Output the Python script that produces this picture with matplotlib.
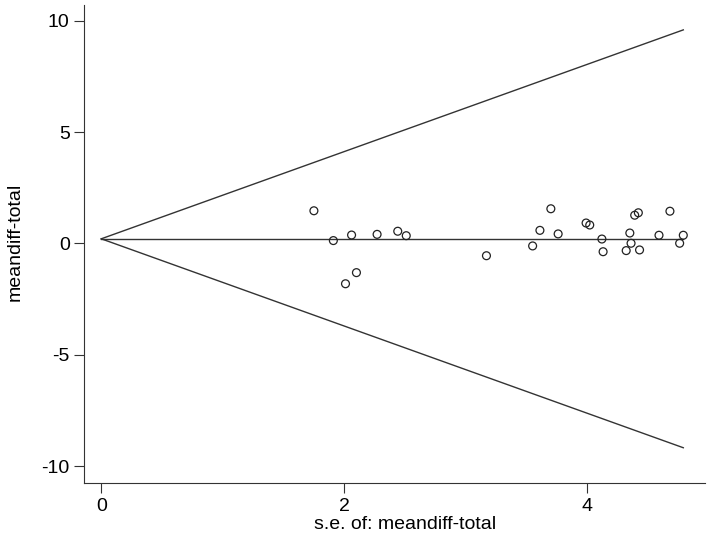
import matplotlib
matplotlib.use("Agg")
import matplotlib.pyplot as plt
import numpy as np

se = [1.75, 1.91, 2.06, 2.10, 2.01, 2.27, 2.44, 2.51, 3.17,
      3.55, 3.61, 3.70, 3.76, 3.99, 4.02, 4.12, 4.13, 4.32, 4.35,
      4.36, 4.39, 4.42, 4.43, 4.59, 4.68, 4.76, 4.79]
md = [1.47, 0.13, 0.38, -1.31, -1.81, 0.41, 0.55, 0.35, -0.55,
      -0.11, 0.59, 1.56, 0.43, 0.92, 0.83, 0.20, -0.37, -0.32, 0.47,
      0.01, 1.27, 1.38, -0.29, 0.37, 1.45, 0.01, 0.37]
pooled = 0.21

plt.rcParams['font.family'] = ['Liberation Sans', 'DejaVu Sans']
plt.rcParams['axes.unicode_minus'] = False
fig = plt.figure(figsize=(7.08, 5.36), dpi=100)
ax = fig.add_axes([0.119, 0.099, 0.877, 0.891])

smax = max(se)
sx = np.array([0, smax])
ax.plot(sx, pooled + 1.96 * sx, color='#333333', lw=1.0)
ax.plot(sx, pooled - 1.96 * sx, color='#333333', lw=1.0)
ax.plot(sx, [pooled, pooled], color='#333333', lw=1.0)
ax.scatter(se, md, s=32, facecolors='none', edgecolors='#222222', linewidths=0.9, zorder=3)

ax.set_xlim(-0.14, 4.97)
ax.set_ylim(-10.76, 10.7)
ax.set_xticks([0, 2, 4])
ax.set_yticks([-10, -5, 0, 5, 10])
for s in ['top', 'right']:
    ax.spines[s].set_visible(False)
for s in ['left', 'bottom']:
    ax.spines[s].set_color('#333333')
ax.tick_params(direction='out', length=7, labelsize=14, color='#333333')
ax.set_xlabel('s.e. of: meandiff-total', fontsize=14)
ax.set_ylabel('meandiff-total', fontsize=14)
ax.xaxis.set_label_coords(0.516, -0.07)
ax.yaxis.set_label_coords(-0.098, 0.505)
fig.savefig('out.png', dpi=100)
